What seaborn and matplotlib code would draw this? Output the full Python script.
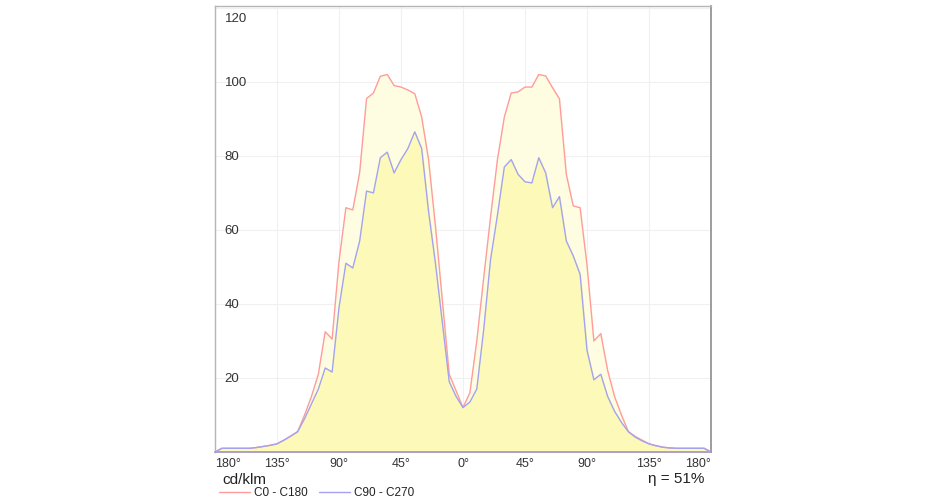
import numpy as np
import pandas as pd
import matplotlib
matplotlib.use("Agg")
import matplotlib.pyplot as plt
from matplotlib.lines import Line2D
from matplotlib.transforms import ScaledTranslation
import seaborn as sns

# Polar light distribution, unfolded: -180..180 deg in 5 deg steps
angles = np.arange(-180, 185, 5)

c0_c180 = [
    0, 1, 1, 1, 1, 1, 1.2, 1.5, 1.8, 2.2, 3.2, 4.3, 5.5,
    10, 15, 21, 32.5, 30.5, 51.5, 66, 65.4, 75.5, 95.5, 97, 101.5, 102,
    99, 98.6, 97.8, 96.8, 90.5, 79, 61, 41, 21, 16.5,
    12,
    16, 30, 47, 63.5, 79, 90.5, 97, 97.3, 98.6, 98.6, 102, 101.6, 98.4,
    95.4, 75, 66.5, 66, 50.5, 30, 32, 22, 15, 10, 5.5, 4.2, 3.2, 2.2,
    1.7, 1.3, 1.1, 1, 1, 1, 1, 1, 0,
]
c90_c270 = [
    0, 1, 1, 1, 1, 1, 1.2, 1.5, 1.8, 2.2, 3.2, 4.3, 5.5,
    9, 13, 17, 22.7, 21.6, 39, 51, 49.7, 57, 70.5, 70, 79.5, 81,
    75.4, 79, 82, 86.5, 82, 65, 51, 35, 19, 15,
    12,
    13.5, 17, 33, 52, 64, 77, 79, 75, 73, 72.7, 79.5, 75.4, 66,
    69, 57, 53, 48, 27.5, 19.5, 21, 15, 11, 8, 5.5, 4, 3, 2.2,
    1.7, 1.3, 1.1, 1, 1, 1, 1, 1, 0,
]

y_ticks = [20, 40, 60, 80, 100, 120]
x_ticks = [-180, -135, -90, -45, 0, 45, 90, 135, 180]
x_labels = ["180°", "135°", "90°", "45°", "0°", "45°", "90°", "135°", "180°"]
efficiency = "η = 51%"
unit = "cd/klm"

df = pd.DataFrame({"angle": angles, "C0 - C180": c0_c180, "C90 - C270": c90_c270})

sns.set_style("white")
plt.rcParams["font.family"] = ["Liberation Sans", "DejaVu Sans"]

fig = plt.figure(figsize=(9.3, 5), dpi=100)
ax = fig.add_axes([215 / 930, 48 / 500, 496 / 930, 446 / 500])

red = "#ff9c9c"
blue = "#a3a3f0"

# fills first, then outlines
ax.fill_between(df["angle"], df["C0 - C180"], color="#fefde2", zorder=1)
ax.fill_between(df["angle"], df["C90 - C270"], color="#fdfab9", zorder=2)
sns.lineplot(data=df, x="angle", y="C0 - C180", color=red, lw=1, ax=ax, zorder=3)
sns.lineplot(data=df, x="angle", y="C90 - C270", color=blue, lw=1, ax=ax, zorder=4)

ax.set_xlim(-180, 180)
ax.set_ylim(0, 120.5)
ax.set_xticks(x_ticks)
ax.set_xticklabels(x_labels)
ax.set_yticks(y_ticks)
ax.set_yticklabels([str(v) for v in y_ticks])
ax.set_xlabel("")
ax.set_ylabel("")
ax.grid(True, color="#f0f0f0", lw=0.8, zorder=0)
ax.set_axisbelow(True)

ax.tick_params(axis="both", length=0, colors="#333333")
ax.tick_params(axis="x", pad=4, labelsize=9)
ax.tick_params(axis="y", pad=-7, labelsize=9.5)
for lab in ax.get_yticklabels():
    lab.set_horizontalalignment("left")
xl = ax.get_xticklabels()
xl[0].set_horizontalalignment("left")
xl[-1].set_horizontalalignment("right")
top_lab = ax.get_yticklabels()[-1]
top_lab.set_transform(top_lab.get_transform() + ScaledTranslation(0, -7 / 72, fig.dpi_scale_trans))

for side in ["left", "top"]:
    ax.spines[side].set_color("#b5b5b5")
    ax.spines[side].set_linewidth(1)
ax.spines["right"].set_color("#8c8c8c")
ax.spines["right"].set_linewidth(1.2)
ax.spines["bottom"].set_color("#9c92c8")
ax.spines["bottom"].set_linewidth(1.2)

fig.text(222 / 930, 1 - 480 / 500, unit, fontsize=11, color="#222222", va="center", ha="left")
fig.text(704 / 930, 1 - 479 / 500, efficiency, fontsize=11, color="#222222", va="center", ha="right")

handles = [Line2D([], [], color=red, lw=1), Line2D([], [], color=blue, lw=1)]
fig.legend(handles, ["C0 - C180", "C90 - C270"], loc="center left",
           bbox_to_anchor=(219 / 930, 1 - 493 / 500), ncol=2, frameon=False,
           fontsize=8.5, handlelength=2.6, handletextpad=0.35, columnspacing=1.0,
           borderpad=0, borderaxespad=0, labelcolor="#222222")

fig.savefig("out.png", dpi=100)
